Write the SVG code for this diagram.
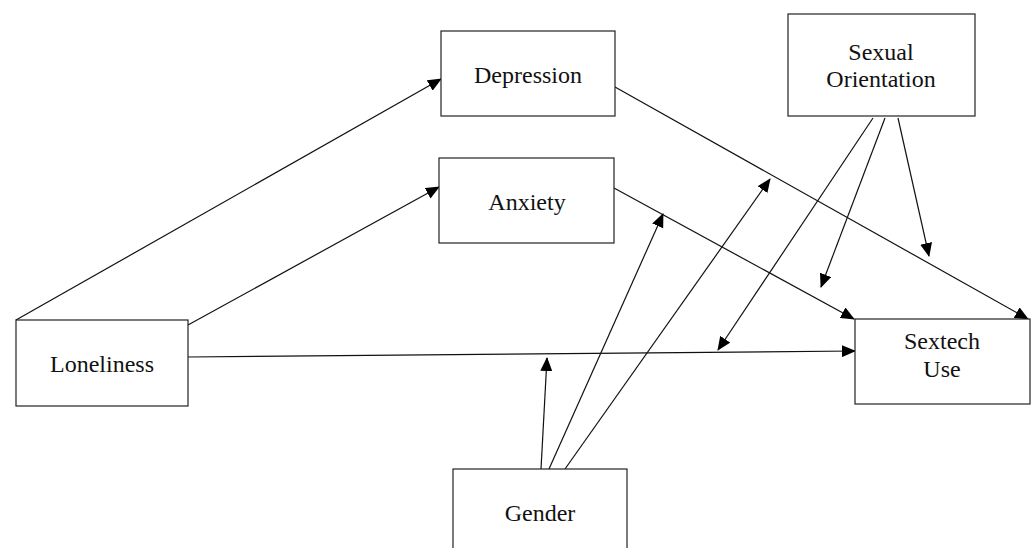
<svg xmlns="http://www.w3.org/2000/svg" width="1033" height="548" viewBox="0 0 1033 548">
<style>
.box{fill:#fff;stroke:#222;stroke-width:1.2}
.lbl{font-family:"Liberation Serif","Times New Roman",serif;font-size:24px;fill:#111;text-anchor:middle}
.edge{stroke:#111;stroke-width:1.2;fill:none;marker-end:url(#ah)}
</style>
<defs>
<marker id="ah" markerUnits="userSpaceOnUse" markerWidth="14" markerHeight="12" viewBox="0 0 14 12" refX="13" refY="6" orient="auto">
<path d="M0,0 L14,6 L0,12 Z" fill="#000"/>
</marker>
</defs>
<rect width="1033" height="548" fill="#fff"/>
<g id="connectors">
<line class="edge" x1="16" y1="320" x2="441" y2="79"/>
<line class="edge" x1="188" y1="325" x2="439" y2="187"/>
<line class="edge" x1="188" y1="357" x2="855" y2="351"/>
<line class="edge" x1="615" y1="87" x2="1028" y2="319"/>
<line class="edge" x1="614" y1="188" x2="854" y2="319"/>
<line class="edge" x1="541" y1="469" x2="547" y2="358"/>
<line class="edge" x1="549" y1="469" x2="663" y2="214"/>
<line class="edge" x1="565" y1="469" x2="770" y2="179"/>
<line class="edge" x1="873" y1="118" x2="718" y2="350"/>
<line class="edge" x1="885" y1="118" x2="821" y2="287"/>
<line class="edge" x1="898" y1="118" x2="929" y2="256"/>
</g>
<g id="depression">
<rect class="box" x="441" y="31" width="174" height="85"/>
<text class="lbl" x="528" y="83">Depression</text>
</g>
<g id="anxiety">
<rect class="box" x="439" y="158" width="175" height="85"/>
<text class="lbl" x="527" y="210">Anxiety</text>
</g>
<g id="sexual-orientation">
<rect class="box" x="788" y="14" width="187" height="102"/>
<text class="lbl" x="881" y="60">Sexual</text>
<text class="lbl" x="881" y="87">Orientation</text>
</g>
<g id="loneliness">
<rect class="box" x="16" y="320" width="172" height="86"/>
<text class="lbl" x="102" y="372">Loneliness</text>
</g>
<g id="sextech-use">
<rect class="box" x="855" y="319" width="175" height="85"/>
<text class="lbl" x="942" y="349">Sextech</text>
<text class="lbl" x="942" y="377">Use</text>
</g>
<g id="gender">
<rect class="box" x="453" y="469" width="174" height="100"/>
<text class="lbl" x="540" y="521">Gender</text>
</g>
</svg>
